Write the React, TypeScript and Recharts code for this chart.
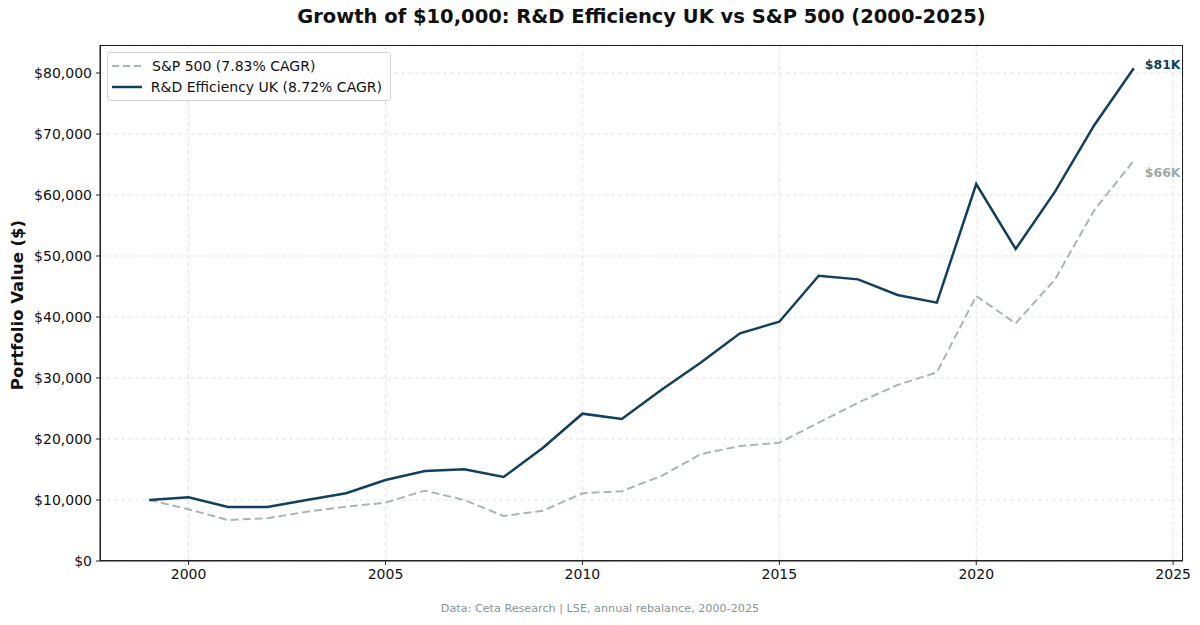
import React from "react";
import { LineChart, Line, XAxis, YAxis, CartesianGrid } from "recharts";

const years = [1999, 2000, 2001, 2002, 2003, 2004, 2005, 2006, 2007, 2008, 2009, 2010, 2011, 2012, 2013, 2014, 2015, 2016, 2017, 2018, 2019, 2020, 2021, 2022, 2023, 2024];
const strategy = [10000, 10440, 8850, 8850, 10000, 11100, 13280, 14750, 15030, 13770, 18580, 24150, 23280, 28030, 32510, 37330, 39230, 46770, 46170, 43610, 42350, 61800, 51150, 60550, 71480, 80770];
const sp500 = [10000, 8470, 6720, 7000, 8080, 8900, 9560, 11530, 10000, 7380, 8250, 11100, 11450, 13930, 17500, 18850, 19400, 22680, 25950, 28850, 30930, 43440, 38960, 46170, 57540, 65630];
const xTicks = [2000, 2005, 2010, 2015, 2020, 2025];
const yTicks = [0, 10000, 20000, 30000, 40000, 50000, 60000, 70000, 80000];

const NAVY = "#123f5c";
const GREY = "#a9b5b4";
const FONT = "'DejaVu Sans', sans-serif";

const data = years.map((year, i) => ({ year, strategy: strategy[i], sp500: sp500[i] }));
const last = years.length - 1;

// only the final point gets a value tag; dy moves the text centre off the point
const endLabel = (color: string, text: string, dy: number) => (props: any) => {
  if (props.index !== last) return null;
  return (
    <text x={props.x + 11} y={props.y + dy + 4.5} fill={color} fontSize={12.5} fontWeight="bold" fontFamily={FONT}>
      {text}
    </text>
  );
};

const LegendBox = () => (
  <div
    style={{
      position: "absolute",
      left: 107,
      top: 52,
      width: 270,
      border: "1px solid #d6d6d6",
      borderRadius: 3,
      background: "rgba(255,255,255,0.8)",
      padding: "3px 8px 3px 4px",
      fontSize: 14,
      color: "#111",
      lineHeight: "20.5px",
    }}
  >
    <div style={{ display: "flex", alignItems: "center", whiteSpace: "nowrap" }}>
      <svg width={31} height={10} style={{ marginRight: 9 }}>
        <line x1={0} y1={5} x2={30} y2={5} stroke={GREY} strokeWidth={2} strokeDasharray="7 4" />
      </svg>
      S&amp;P 500 (7.83% CAGR)
    </div>
    <div style={{ display: "flex", alignItems: "center", whiteSpace: "nowrap" }}>
      <svg width={31} height={10} style={{ marginRight: 9 }}>
        <line x1={0} y1={5} x2={30} y2={5} stroke={NAVY} strokeWidth={2.5} />
      </svg>
      R&amp;D Efficiency UK (8.72% CAGR)
    </div>
  </div>
);

export default function App() {
  const tick = { fill: "#111", fontSize: 14, fontFamily: FONT };
  return (
    <div style={{ position: "relative", width: 1200, height: 625, background: "#fff", fontFamily: FONT }}>
      <style>{`body{margin:0}`}</style>
      <div style={{ position: "absolute", left: 0, top: 5, width: 1283, textAlign: "center", fontSize: 19.5, fontWeight: "bold", color: "#111" }}>
        Growth of $10,000: R&amp;D Efficiency UK vs S&amp;P 500 (2000-2025)
      </div>
      <div
        style={{
          position: "absolute",
          left: 17,
          top: 305,
          transform: "translate(-50%, -50%) rotate(-90deg)",
          whiteSpace: "nowrap",
          fontSize: 16.5,
          fontWeight: "bold",
          color: "#111",
        }}
      >
        Portfolio Value ($)
      </div>
      <LineChart width={1200} height={625} data={data} margin={{ top: 45, right: 17, left: 8, bottom: 34 }}>
        <CartesianGrid stroke="#e3e3e3" strokeDasharray="4 3" />
        <XAxis
          dataKey="year"
          type="number"
          domain={[1997.75, 2025.25]}
          ticks={xTicks}
          allowDataOverflow
          height={30}
          tick={tick}
          tickSize={4}
          tickMargin={4}
          stroke="#222"
        />
        <YAxis
          type="number"
          domain={[0, 84590]}
          ticks={yTicks}
          allowDataOverflow
          width={92}
          tick={tick}
          tickSize={4}
          tickMargin={4}
          stroke="#222"
          tickFormatter={(v: number) => "$" + v.toLocaleString("en-US")}
        />
        <Line
          dataKey="sp500"
          stroke={GREY}
          strokeWidth={2}
          strokeDasharray="8 4"
          dot={false}
          isAnimationActive={false}
          label={endLabel("#9eabaa", "$66K", 11.5)}
        />
        <Line
          dataKey="strategy"
          stroke={NAVY}
          strokeWidth={2.5}
          dot={false}
          isAnimationActive={false}
          label={endLabel(NAVY, "$81K", -4)}
        />
      </LineChart>
      <LegendBox />
      <div style={{ position: "absolute", left: 100, top: 45, width: 1081, height: 514, border: "1px solid #222", pointerEvents: "none" }} />
      <div style={{ position: "absolute", left: 0, top: 602, width: 1200, textAlign: "center", fontSize: 11.2, color: "#8a9596" }}>
        Data: Ceta Research | LSE, annual rebalance, 2000-2025
      </div>
    </div>
  );
}
